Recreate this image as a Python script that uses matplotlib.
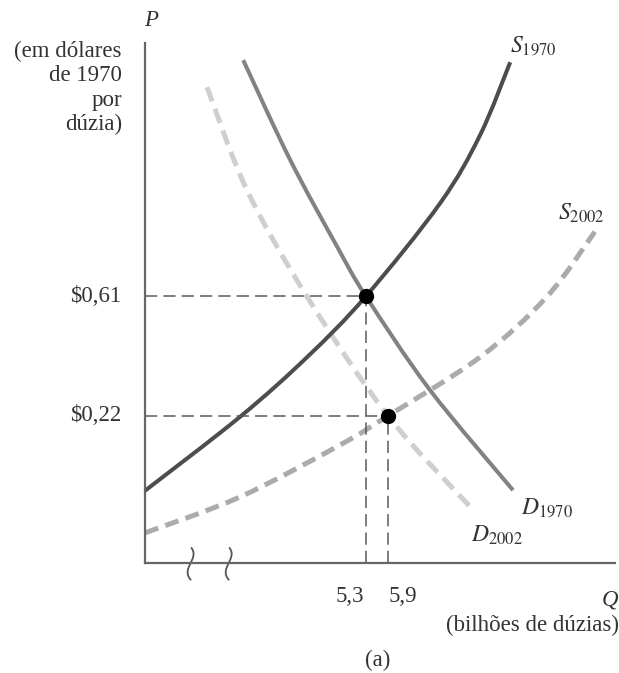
import matplotlib
matplotlib.use("Agg")
import matplotlib.pyplot as plt
from matplotlib.path import Path
from matplotlib.patches import PathPatch

plt.rcParams['font.family'] = ['Liberation Serif', 'DejaVu Serif']
plt.rcParams['mathtext.fontset'] = 'stix'

# chart units: origin of the axes is (0, 0); the Q axis is broken, so units are abstract
s1970_x = [0, 2.02, 3.45, 4.70, 6.28, 7.13, 7.77]
s1970_y = [1.39, 2.81, 3.96, 5.13, 6.92, 8.23, 9.63]

d1970_x = [2.09, 3.09, 4.09, 4.70, 6.06, 7.83]
d1970_y = [9.67, 7.75, 6.08, 5.13, 3.33, 1.40]

d2002_x = [1.32, 2.17, 3.45, 5.17, 6.92]
d2002_y = [9.15, 7.17, 5.12, 2.83, 1.08]

s2002_x = [0, 2.02, 4.15, 5.17, 7.13, 8.55, 9.57]
s2002_y = [0.58, 1.27, 2.27, 2.83, 3.96, 5.12, 6.37]

# equilibria (1970 and 2002)
eq_x = [4.70, 5.17]
eq_y = [5.13, 2.83]
q_labels = ['5,3', '5,9']
p_labels = [r'\$0,61', r'\$0,22']

# axis break marks on the Q axis
break_x = [0.96, 1.77]

W, H = 619, 673
fig = plt.figure(figsize=(W / 100, H / 100), dpi=100)
ax = fig.add_axes([145 / W, 110 / H, 470 / W, 520 / H])
ax.set_xlim(0, 10)
ax.set_ylim(0, 10)
ax.set_xticks([])
ax.set_yticks([])
for side in ['top', 'right']:
    ax.spines[side].set_visible(False)
for side in ['left', 'bottom']:
    ax.spines[side].set_color('#666666')
    ax.spines[side].set_linewidth(1.6)


def px(x, y):
    # figure pixel position (from top-left) -> figure fraction
    return x / W, 1 - y / H


def smooth_path(xs, ys):
    # cubic Bezier segments through every read point (Catmull-Rom tangents)
    pts = list(zip(xs, ys))
    n = len(pts)
    verts = [pts[0]]
    codes = [Path.MOVETO]
    for i in range(n - 1):
        p0 = pts[max(i - 1, 0)]
        p1 = pts[i]
        p2 = pts[i + 1]
        p3 = pts[min(i + 2, n - 1)]
        c1 = (p1[0] + (p2[0] - p0[0]) / 6, p1[1] + (p2[1] - p0[1]) / 6)
        c2 = (p2[0] - (p3[0] - p1[0]) / 6, p2[1] - (p3[1] - p1[1]) / 6)
        verts += [c1, c2, p2]
        codes += [Path.CURVE4] * 3
    return Path(verts, codes)


def curve(xs, ys, **kw):
    ax.add_patch(PathPatch(smooth_path(xs, ys), fill=False, capstyle='butt',
                           clip_on=False, **kw))


# curves
curve(d2002_x, d2002_y, ec='#cfcfcf', lw=3.6, ls=(0, (3.0, 1.6)))
curve(s2002_x, s2002_y, ec='#ababab', lw=3.6, ls=(0, (2.8, 1.5)))
curve(d1970_x, d1970_y, ec='#828282', lw=2.9)
curve(s1970_x, s1970_y, ec='#4d4d4d', lw=2.9)

# guide lines to the axes
for ex, ey in zip(eq_x, eq_y):
    ax.plot([0, ex], [ey, ey], color='#5a5a5a', lw=1.1, dashes=(8, 4))
    ax.plot([ex, ex], [0, ey], color='#5a5a5a', lw=1.1, dashes=(8, 4))
ax.plot(eq_x, eq_y, 'o', color='black', ms=10, zorder=5)

# break marks
for bx in break_x:
    verts = [(bx + 0.02, 0.30), (bx + 0.22, 0.08), (bx - 0.22, -0.10), (bx + 0.02, -0.33)]
    path = Path(verts, [Path.MOVETO, Path.CURVE4, Path.CURVE4, Path.CURVE4])
    ax.add_patch(PathPatch(path, fill=False, ec='#555555', lw=1.3, clip_on=False))

fs = 16.5
tc = '#333333'

# tick labels
for ey, lab in zip(eq_y, p_labels):
    ax.annotate(lab, (0, ey), xytext=(-24, 0), textcoords='offset pixels',
                ha='right', va='center', fontsize=fs, color=tc)
ax.annotate(q_labels[0], (eq_x[0], 0), xytext=(-16, -34), textcoords='offset pixels',
            ha='center', va='center', fontsize=fs, color=tc)
ax.annotate(q_labels[1], (eq_x[1], 0), xytext=(15, -34), textcoords='offset pixels',
            ha='center', va='center', fontsize=fs, color=tc)

# axis titles
fig.text(*px(151, 21), 'P', style='italic', ha='center', va='center', fontsize=fs, color=tc)
fig.text(*px(122, 88), '(em dólares\nde 1970\npor\ndúzia)', ha='right', va='center',
         fontsize=fs, color=tc, linespacing=1.2, multialignment='right')
fig.text(*px(618, 600), 'Q', style='italic', ha='right', va='center', fontsize=fs, color=tc)
fig.text(*px(619, 625), '(bilhões de dúzias)', ha='right', va='center', fontsize=fs, color=tc)
fig.text(*px(378, 660), '(a)', ha='center', va='center', fontsize=fs, color=tc)

# curve labels
fig.text(*px(510, 46), r'$S_{1970}$', ha='left', va='center', fontsize=17, color=tc)
fig.text(*px(558, 213), r'$S_{2002}$', ha='left', va='center', fontsize=17, color=tc)
fig.text(*px(521, 508), r'$D_{1970}$', ha='left', va='center', fontsize=17, color=tc)
fig.text(*px(471, 535), r'$D_{2002}$', ha='left', va='center', fontsize=17, color=tc)

fig.savefig('out.png', dpi=100, facecolor='white')
